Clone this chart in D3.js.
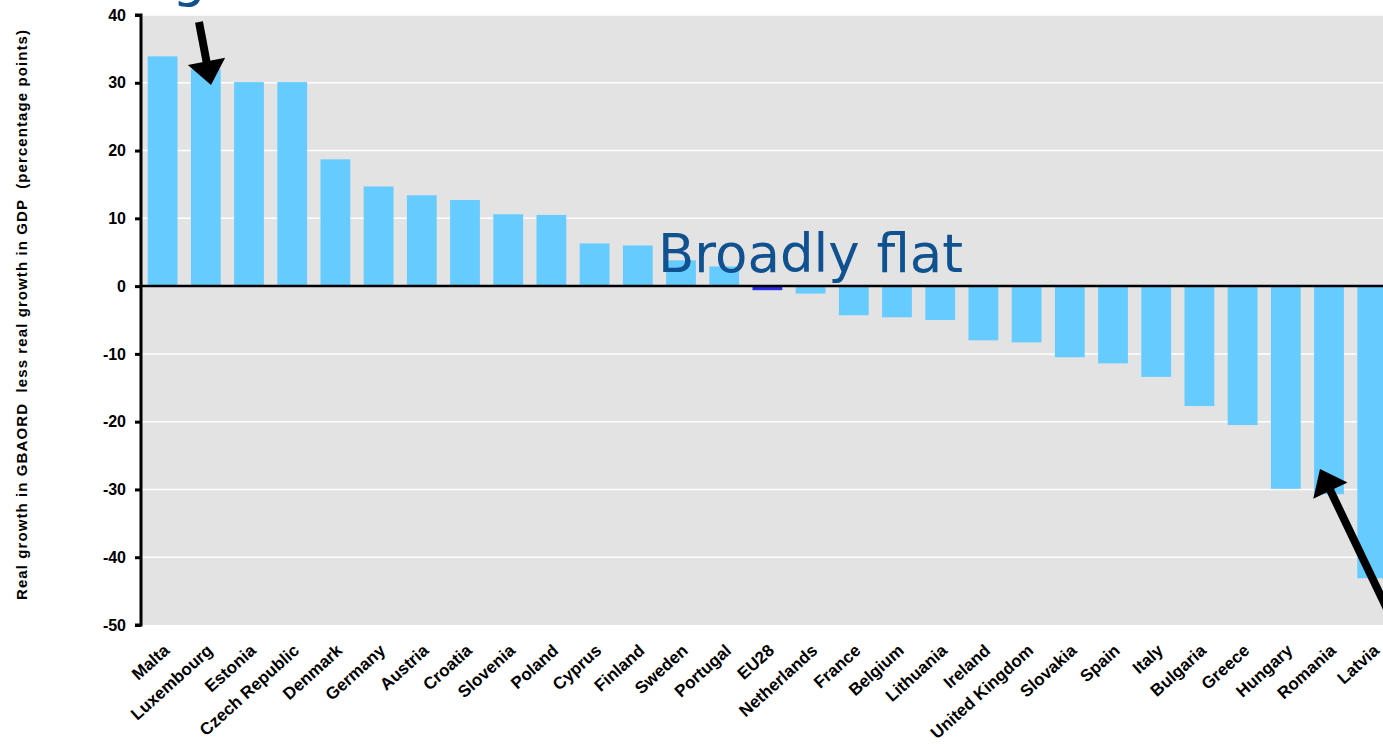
<!DOCTYPE html>
<html>
<head>
<meta charset="utf-8">
<script src="https://cdn.jsdelivr.net/npm/d3@7"></script>
<style>
  body { margin: 0; background: #fff; overflow: hidden; }
  svg { display: block; }
</style>
</head>
<body>
<div id="chart"></div>
<script>
const countries = ["Malta", "Luxembourg", "Estonia", "Czech Republic", "Denmark", "Germany",
  "Austria", "Croatia", "Slovenia", "Poland", "Cyprus", "Finland", "Sweden", "Portugal",
  "EU28", "Netherlands", "France", "Belgium", "Lithuania", "Ireland", "United Kingdom",
  "Slovakia", "Spain", "Italy", "Bulgaria", "Greece", "Hungary", "Romania", "Latvia"];
const values = [33.9, 32.0, 30.1, 30.1, 18.7, 14.7, 13.4, 12.7, 10.6, 10.5, 6.3, 6.0, 3.8, 2.9,
  -0.6, -1.1, -4.3, -4.6, -5.0, -8.0, -8.3, -10.5, -11.4, -13.4, -17.7, -20.5, -29.9, -30.7, -43.1];
const yTicks = [40, 30, 20, 10, 0, -10, -20, -30, -40, -50];
const yTitle = "Real growth in GBAORD  less real growth in GDP  (percentage points)";

const width = 1383, height = 744;
const plotLeft = 141, plotTop = 15, plotBottom = 625;

const svg = d3.select("#chart").append("svg")
  .attr("width", width)
  .attr("height", height);

const x = d3.scaleBand()
  .domain(countries)
  .range([plotLeft, plotLeft + 43.2 * countries.length])
  .paddingInner(0.31)
  .paddingOuter(0.155);

const y = d3.scaleLinear().domain([-50, 40]).range([plotBottom, plotTop]);

// plot background
svg.append("rect")
  .attr("x", plotLeft)
  .attr("y", plotTop)
  .attr("width", width - plotLeft)
  .attr("height", plotBottom - plotTop)
  .attr("fill", "#e3e3e3");

// gridlines
svg.append("g")
  .selectAll("line")
  .data(yTicks.filter(d => d !== 0 && d !== -50))
  .join("line")
  .attr("x1", plotLeft)
  .attr("x2", width)
  .attr("y1", d => y(d))
  .attr("y2", d => y(d))
  .attr("stroke", "#fff")
  .attr("stroke-width", 1.5);

// bars
svg.append("g")
  .selectAll("rect")
  .data(countries)
  .join("rect")
  .attr("x", d => x(d))
  .attr("width", x.bandwidth())
  .attr("y", (d, i) => y(Math.max(0, values[i])))
  .attr("height", (d, i) => Math.abs(y(values[i]) - y(0)))
  .attr("fill", d => d === "EU28" ? "#2a2ae8" : "#66ccff");

// zero line
svg.append("line")
  .attr("x1", plotLeft)
  .attr("x2", width)
  .attr("y1", y(0))
  .attr("y2", y(0))
  .attr("stroke", "#000")
  .attr("stroke-width", 2.5);

// y axis
const yAxis = svg.append("g")
  .attr("transform", `translate(${plotLeft},0)`)
  .call(d3.axisLeft(y).tickValues(yTicks).tickSize(6).tickPadding(9).tickFormat(d => String(d)));
yAxis.select(".domain").attr("stroke", "#000").attr("stroke-width", 3)
  .attr("d", `M-6,${plotTop}H0V${plotBottom}H-6`);
yAxis.selectAll(".tick line").attr("stroke", "#000").attr("stroke-width", 3);
yAxis.selectAll(".tick text")
  .attr("fill", "#000")
  .style("font-family", "Liberation Sans, Arial, sans-serif")
  .style("font-weight", "bold")
  .style("font-size", "16px");

svg.append("text")
  .attr("transform", `translate(27,315) rotate(-90)`)
  .attr("text-anchor", "middle")
  .attr("textLength", 570)
  .attr("lengthAdjust", "spacing")
  .style("font-family", "Liberation Sans, Arial, sans-serif")
  .style("font-weight", "bold")
  .style("font-size", "15px")
  .style("white-space", "pre")
  .attr("fill", "#000")
  .text(yTitle);

// x labels
svg.append("g")
  .selectAll("text")
  .data(countries)
  .join("text")
  .attr("transform", d => `translate(${x(d) + x.bandwidth() / 2 + 8},${plotBottom + 27}) rotate(-42)`)
  .attr("text-anchor", "end")
  .style("font-family", "Liberation Sans, Arial, sans-serif")
  .style("font-weight", "bold")
  .style("font-size", "17px")
  .attr("fill", "#000")
  .text(d => d);

// annotations
svg.append("text")
  .attr("x", 658)
  .attr("y", 272)
  .style("font-family", "DejaVu Sans, Verdana, sans-serif")
  .style("font-size", "53px")
  .attr("fill", "#10518f")
  .text("Broadly flat");

svg.append("text")
  .attr("x", 206)
  .attr("y", -4)
  .attr("text-anchor", "end")
  .style("font-family", "DejaVu Sans, Verdana, sans-serif")
  .style("font-size", "53px")
  .attr("fill", "#10518f")
  .text("Rising");

// arrows: shaft + triangular head
const arrows = [
  { from: [199, 22], to: [211, 85] },
  { from: [1390, 615], to: [1320, 469] }
];
const headLen = 24, headHalf = 19;
const arrowG = svg.append("g");
arrows.forEach(a => {
  const dx = a.to[0] - a.from[0], dy = a.to[1] - a.from[1];
  const len = Math.hypot(dx, dy);
  const ux = dx / len, uy = dy / len;
  const bx = a.to[0] - ux * headLen, by = a.to[1] - uy * headLen;
  arrowG.append("line")
    .attr("x1", a.from[0]).attr("y1", a.from[1])
    .attr("x2", bx + ux * 2).attr("y2", by + uy * 2)
    .attr("stroke", "#000")
    .attr("stroke-width", 8);
  arrowG.append("path")
    .attr("d", d3.line()([
      a.to,
      [bx - uy * headHalf, by + ux * headHalf],
      [bx + uy * headHalf, by - ux * headHalf]
    ]) + "Z")
    .attr("fill", "#000");
});
</script>
</body>
</html>
